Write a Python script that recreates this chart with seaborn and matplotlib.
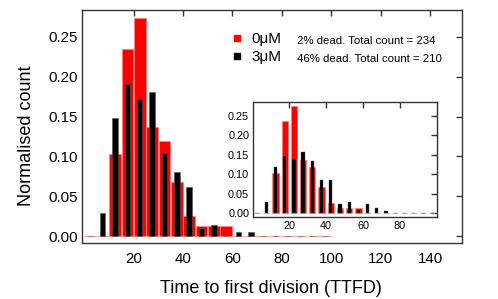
import matplotlib
matplotlib.use('Agg')
import matplotlib.pyplot as plt
import seaborn as sns
from matplotlib.lines import Line2D
from matplotlib.ticker import FormatStrFormatter

# bin centres (bins of width 5)
bin_centres = [2.5, 7.5, 12.5, 17.5, 22.5, 27.5, 32.5, 37.5, 42.5, 47.5,
               52.5, 57.5, 62.5, 67.5, 72.5, 77.5, 82.5, 87.5, 92.5, 97.5]

# normalised counts, 0uM (n=234)
red_0uM = [0, 0, 0.1026, 0.2350, 0.2735, 0.1368, 0.1197, 0.0684, 0.0256, 0.0128,
           0.0128, 0.0128, 0, 0, 0, 0, 0, 0, 0, 0]
# normalised counts, 3uM (n=210), main panel
black_3uM = [0, 0.0286, 0.1476, 0.1905, 0.1714, 0.1810, 0.1048, 0.0810, 0.0619, 0.0095,
             0.0143, 0, 0.0048, 0.0048, 0, 0, 0, 0, 0, 0]
# normalised counts, 3uM, inset
black_3uM_inset = [0, 0.0286, 0.1190, 0.1476, 0.1381, 0.1571, 0.1333, 0.0857, 0.0857, 0.0238,
                   0.0286, 0.0095, 0.0238, 0.0143, 0.0048, 0, 0, 0, 0, 0]

legend_labels = ['0\u03bcM', '3\u03bcM']
legend_notes = ['2% dead. Total count = 234', '46% dead. Total count = 210']

sns.set_style('white')
plt.rcParams['font.family'] = ['Liberation Sans', 'DejaVu Sans']
plt.rcParams['text.color'] = 'black'
plt.rcParams['axes.labelcolor'] = 'black'

red = '#ff0000'
red_edge = '#ff8080'
spine_col = '#333333'

fig = plt.figure(figsize=(4.98, 2.99), dpi=100)
ax = fig.add_axes([0.164, 0.186, 0.764, 0.780])

sns.barplot(x=bin_centres, y=red_0uM, native_scale=True, width=0.95, color=red,
            saturation=1, errorbar=None, edgecolor=red_edge, linewidth=0.6, ax=ax)
sns.barplot(x=bin_centres, y=black_3uM, native_scale=True, width=0.44, color='black',
            saturation=1, errorbar=None, edgecolor='#555555', linewidth=0.4, ax=ax)

ax.set_xlim(-1, 153)
ax.set_ylim(-0.0092, 0.2835)
ax.set_xticks([20, 40, 60, 80, 100, 120, 140])
ax.set_yticks([0, 0.05, 0.10, 0.15, 0.20, 0.25])
ax.yaxis.set_major_formatter(FormatStrFormatter('%.2f'))
ax.tick_params(direction='in', top=True, right=True, length=4, width=1,
               color=spine_col, labelcolor='black', labelsize=10.8)
ax.tick_params(axis='x', pad=6)
ax.tick_params(axis='y', pad=3)
for s in ax.spines.values():
    s.set_color(spine_col)
    s.set_linewidth(1.0)
ax.set_xlabel('Time to first division (TTFD)', fontsize=13)
ax.set_ylabel('Normalised count', fontsize=13)
ax.xaxis.set_label_coords(0.498, -0.158)
ax.yaxis.set_label_coords(-0.122, 0.461)

handles = [Line2D([], [], linestyle='none', marker='s', markersize=5, color=red),
           Line2D([], [], linestyle='none', marker='s', markersize=5, color='black')]
ax.legend(handles, legend_labels, loc='upper left', bbox_to_anchor=(0.397, 0.905),
          frameon=False, fontsize=11, handlelength=0.5, handletextpad=0.75,
          labelspacing=0.27, borderpad=0, borderaxespad=0)
for i, note in enumerate(legend_notes):
    ax.text(0.567, 0.854 - i * 0.077, note, transform=ax.transAxes,
            fontsize=8.2, va='baseline', ha='left')

# inset
axin = fig.add_axes([0.5087, 0.2732, 0.3683, 0.3846])
sns.barplot(x=bin_centres, y=red_0uM, native_scale=True, width=0.68, color=red,
            saturation=1, errorbar=None, edgecolor=red_edge, linewidth=0.5, ax=axin)
sns.barplot(x=bin_centres, y=black_3uM_inset, native_scale=True, width=0.36, color='black',
            saturation=1, errorbar=None, edgecolor='#555555', linewidth=0.3, ax=axin)
axin.set_xlim(0.5, 100)
axin.set_ylim(-0.0102, 0.284)
axin.set_xticks([20, 40, 60, 80])
axin.set_yticks([0, 0.05, 0.10, 0.15, 0.20, 0.25])
axin.yaxis.set_major_formatter(FormatStrFormatter('%.2f'))
axin.tick_params(direction='in', top=True, right=True, length=4, width=1,
                 color=spine_col, labelcolor='black', labelsize=7.8, pad=3)
axin.set_xlabel('')
axin.set_ylabel('')
for s in axin.spines.values():
    s.set_color(spine_col)
    s.set_linewidth(1.0)

fig.savefig('out.png', dpi=100)
